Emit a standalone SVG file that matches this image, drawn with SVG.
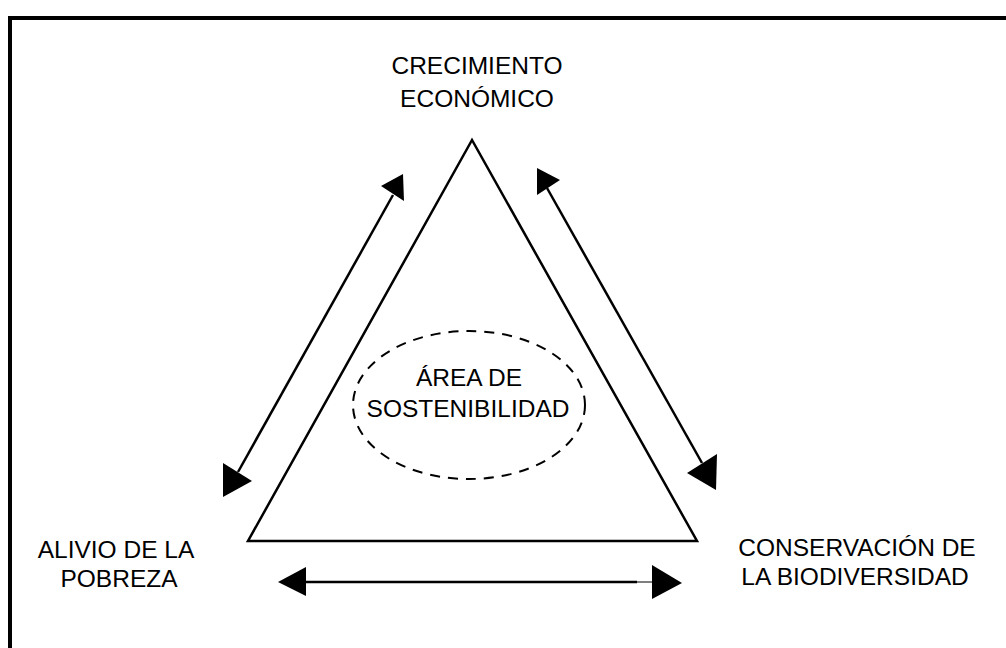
<svg xmlns="http://www.w3.org/2000/svg" width="1006" height="648" viewBox="0 0 1006 648">
<style>
.lbl{font-family:"Liberation Sans",Arial,sans-serif;font-size:24.5px;fill:#000;text-anchor:middle}
.ln{stroke:#000;stroke-width:2.5;fill:none}
.hd{fill:#000;stroke:none}
</style>
<rect x="0" y="0" width="1006" height="648" fill="#fff"/>
<path d="M10,652 V18 H1010" fill="none" stroke="#000" stroke-width="4"/>
<g id="triangle">
<polygon points="472,140 248,541 697,541" class="ln" stroke-linejoin="miter"/>
</g>
<g id="node-crecimiento">
<text class="lbl" x="477" y="74">CRECIMIENTO</text>
<text class="lbl" x="477" y="107">ECONÓMICO</text>
</g>
<g id="node-pobreza">
<text class="lbl" x="116" y="558">ALIVIO DE LA</text>
<text class="lbl" x="119" y="587">POBREZA</text>
</g>
<g id="node-biodiversidad">
<text class="lbl" x="857" y="556">CONSERVACIÓN DE</text>
<text class="lbl" x="855" y="585">LA BIODIVERSIDAD</text>
</g>
<g id="node-sostenibilidad">
<ellipse cx="469" cy="405" rx="116" ry="74" fill="none" stroke="#000" stroke-width="2" stroke-dasharray="10 8"/>
<text class="lbl" x="469" y="386">ÁREA DE</text>
<text class="lbl" x="468" y="417">SOSTENIBILIDAD</text>
</g>
<g id="connectors">
<line class="ln" x1="238" y1="472" x2="393" y2="195"/>
<polygon class="hd" points="381,186 403,174 404,201"/>
<polygon class="hd" points="223,463 223,497 252,481"/>
<line class="ln" x1="547" y1="188" x2="702" y2="463"/>
<polygon class="hd" points="537,168 537,195 560,180"/>
<polygon class="hd" points="717,454 716,490 687,473"/>
<line class="ln" x1="306" y1="582" x2="637" y2="582"/>
<line stroke="#000" stroke-width="1" x1="637" y1="582" x2="652" y2="582"/>
<polygon class="hd" points="278,582 306,567 306,596"/>
<polygon class="hd" points="652,565 652,599 682,583"/>
</g>
</svg>
